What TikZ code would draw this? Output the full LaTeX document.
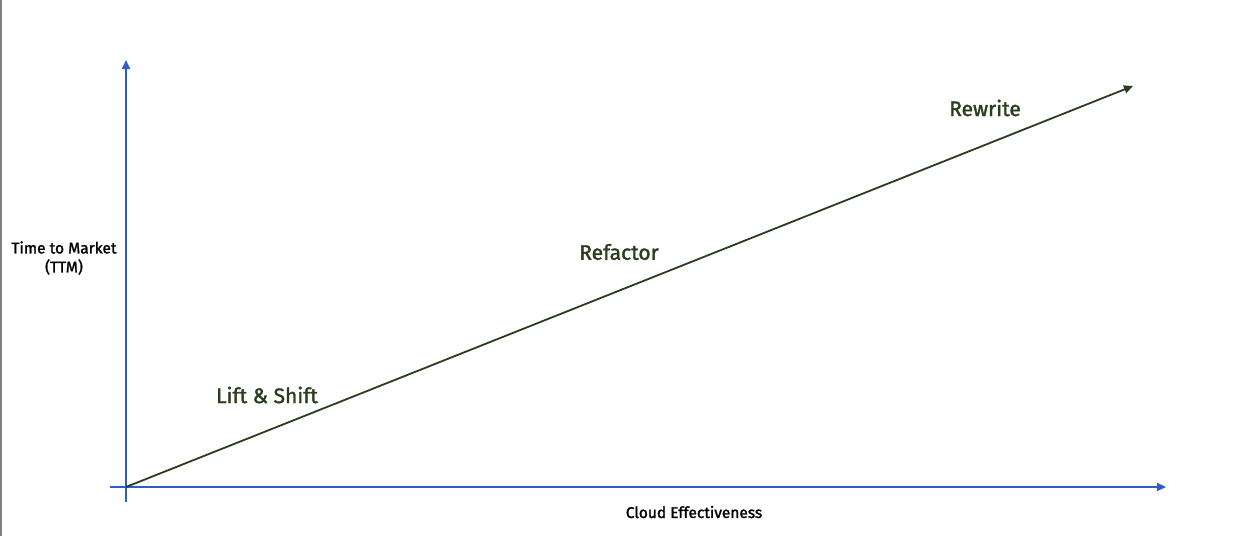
\documentclass[tikz,border=0pt]{standalone}
\usepackage{fontspec}
\setmainfont{Fira Sans}
\newfontfamily\medfont{Fira Sans}[FakeBold=1.6]
\usetikzlibrary{arrows.meta}
\definecolor{axisblue}{HTML}{2F5CC9}
\definecolor{lbl}{HTML}{2A3D1C}
\definecolor{edge}{HTML}{808080}
\tikzset{
  axis/.style={draw=axisblue, line width=2pt, -{Triangle[length=9pt,width=8pt]}},
  trend/.style={draw=lbl, line width=1.8pt, -{Triangle[length=9pt,width=8pt]}},
  stage/.style={text=lbl, font=\medfont\fontsize{21}{25}\selectfont, inner sep=0pt},
  axlabel/.style={text=black, font=\medfont\fontsize{15.5}{19}\selectfont, inner sep=0pt, align=center}
}
\begin{document}
\begin{tikzpicture}[x=1pt,y=-1pt]
\useasboundingbox[fill=white] (0,0) rectangle (1240,536);
\fill[edge] (0,0) rectangle (1.5,536);
\coordinate (o) at (126,487);
\coordinate (ybot) at (126,502);
\coordinate (ytop) at (126,60);
\coordinate (xl) at (110,487);
\coordinate (xr) at (1166,487);
\coordinate (tend) at (1133,86);
\draw[axis] (ybot) -- (ytop);
\draw[axis] (xl) -- (xr);
\draw[trend] (o) -- (tend);
\node[stage] (lift) at (267,395) {Lift \& Shift};
\node[stage] (ref) at (619,252) {Refactor};
\node[stage] (rew) at (985,108) {Rewrite};
\node[axlabel] (ce) at (694,512) {Cloud Effectiveness};
\node[axlabel] (ttm) at (64,258) {Time to Market\\(TTM)};
\end{tikzpicture}
\end{document}
